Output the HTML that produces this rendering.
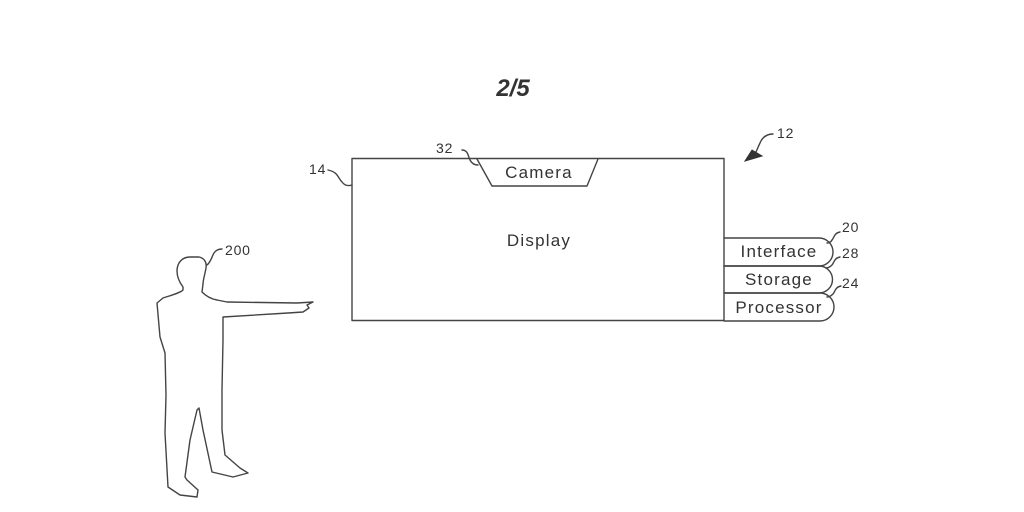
<!DOCTYPE html>
<html><head><meta charset="utf-8"><style>
html,body{margin:0;padding:0;background:#fff;}
svg{display:block;}
text{font-family:"Liberation Sans",sans-serif;fill:#333;}
.lbl{font-size:17px;letter-spacing:1.2px;}
.num{font-size:14px;letter-spacing:0.8px;}
</style></head><body>
<svg width="1024" height="512" viewBox="0 0 1024 512" xmlns="http://www.w3.org/2000/svg">
<g fill="none" stroke="#444" stroke-width="1.4" stroke-linejoin="round" stroke-linecap="round">
<!-- main display box -->
<rect x="352" y="158.5" width="372" height="162"/>
<!-- camera trapezoid -->
<path d="M477 159 L492 186 L587 186 L598 159"/>
<!-- side pills -->
<path d="M724 238 L819 238 A14 14 0 0 1 819 266 L724 266"/>
<path d="M724 266 L819 266 A13.5 13.5 0 0 1 819 293 L724 293"/>
<path d="M724 293 L820 293 A14 14 0 0 1 820 321 L724 321"/>
<!-- leaders -->
<path d="M328 170 C338 172 338 178 342 182 C345 186 349 186 352 185"/>
<path d="M462 150 C468 150 468 156 470 160 C472 164 475 165 478 165"/>
<path d="M840 232 C834 233 834 238 832 240 C831 242 829 243 827 243"/>
<path d="M840 257 C834 258 834 263 832 265 C830 267 828 268 826 268"/>
<path d="M841 286 C835 287 835 292 833 294 C831 296 829 297 827 297"/>
<path d="M773 134 C766 134 762 138 760 143 C758 147 757 150 756 152"/>
<path d="M207 265 C211 262 212 256 214 253 C216 250 219 249 222 249"/>
<!-- person -->
<path d="M183 287 C180 283 177 278 177 271 C177 263 182 257 190 257 L199 257 C204 258 207 262 206 268 C205 274 203 280 203 284 L202 292 C206 296 211 299 217 300 L227 302 L297 303 L313 302 L307 305 L309 308 L303 312 L288 313 L223 317 L223 340 L222 390 L222 430 L225 455 L240 468 L248 473 L233 477 L212 472 L203 430 L199 408 L197 410 L190 440 L185 477 L187 480 L198 490 L197 497 L180 495 L168 487 L165 433 L166 395 L165 353 L160 337 L157 303 L163 298 C172 295 180 293 183 290 Z"/>
</g>
<!-- arrowhead for 12 -->
<path d="M745 161 L752 150 L762 156 Z" fill="#333" stroke="#333" stroke-width="1"/>
<!-- text -->
<text x="513" y="96" font-size="24" font-weight="bold" font-style="italic" text-anchor="middle">2/5</text>
<text class="lbl" x="539" y="178" text-anchor="middle">Camera</text>
<text class="lbl" x="539" y="246" text-anchor="middle">Display</text>
<text class="lbl" x="779" y="257" text-anchor="middle">Interface</text>
<text class="lbl" x="779" y="285" text-anchor="middle">Storage</text>
<text class="lbl" x="779" y="313" text-anchor="middle">Processor</text>
<text class="num" x="842" y="232">20</text>
<text class="num" x="842" y="258">28</text>
<text class="num" x="842" y="288">24</text>
<text class="num" x="777" y="138">12</text>
<text class="num" x="436" y="153">32</text>
<text class="num" x="309" y="174">14</text>
<text class="num" x="225" y="255">200</text>
</svg>
</body></html>
